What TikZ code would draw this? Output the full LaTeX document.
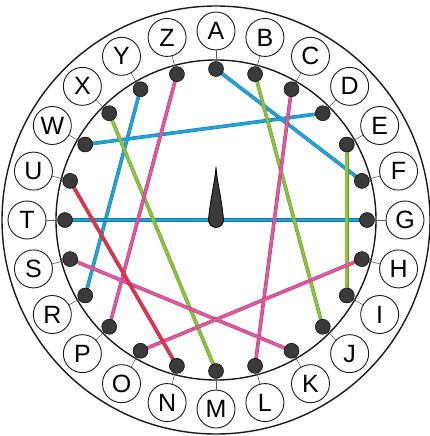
\documentclass[tikz,border=0pt]{standalone}
\usepackage{fontspec}
\setmainfont{Liberation Sans}
\usetikzlibrary{calc,backgrounds}
\definecolor{ringInk}{HTML}{1A1A1A}
\definecolor{pinDark}{HTML}{3A3A3A}
\definecolor{wireBlue}{HTML}{1FA3D8}
\definecolor{wireGreen}{HTML}{8CC43F}
\definecolor{wirePink}{HTML}{E2579F}
\definecolor{wireRed}{HTML}{E2334E}

\begin{document}
\begin{tikzpicture}[x=1pt,y=-1pt,line cap=round,line join=round]
\useasboundingbox (0,0) rectangle (429,436);
\tikzset{ring/.style={draw=ringInk,line width=1.4pt},letter/.style={circle,draw=ringInk,line width=0.9pt,fill=white,minimum size=38pt,inner sep=0pt,font=\fontsize{25}{25}\selectfont},pin/.style={circle,fill=pinDark,draw=black,line width=0.5pt,minimum size=15pt,inner sep=0pt},tick/.style={draw=ringInk!70,line width=0.6pt},wire/.style={line width=0.5pt,double distance=2.6pt}}
\coordinate (ctr) at (216,220);
\draw[ring] (ctr) circle (214);
\draw[ring] (ctr) circle (160);
% letters on the outer ring, pins on the inner one
\foreach \l/\a in {A/-90,B/-75,C/-60,D/-45,E/-30,F/-15,G/0,H/15,I/30,J/45,K/60,L/75,M/90,N/105,O/120,P/135,R/150,S/165,T/180,U/195,W/210,X/225,Y/240,Z/255}{
  \node[letter] (l\l) at ($(ctr)+(\a:189)$) {\l};
  \node[pin] (p\l) at ($(ctr)+(\a:151)$) {};
  \draw[tick] (p\l) -- (l\l);
}
\begin{scope}[on background layer]
\draw[wire,draw=wireBlue!75!black,double=wireBlue] (pA.center) -- (pF.center);
\draw[wire,draw=wireBlue!75!black,double=wireBlue] (pW.center) -- (pD.center);
\draw[wire,draw=wireBlue!75!black,double=wireBlue] (pY.center) -- (pR.center);
\draw[wire,draw=wireBlue!75!black,double=wireBlue] (pT.center) -- (pG.center);
\draw[wire,draw=wireGreen!75!black,double=wireGreen] (pX.center) -- (pM.center);
\draw[wire,draw=wireGreen!75!black,double=wireGreen] (pB.center) -- (pJ.center);
\draw[wire,draw=wireGreen!75!black,double=wireGreen] (pE.center) -- (pI.center);
\draw[wire,draw=wirePink!75!black,double=wirePink] (pZ.center) -- (pP.center);
\draw[wire,draw=wirePink!75!black,double=wirePink] (pC.center) -- (pL.center);
\draw[wire,draw=wirePink!75!black,double=wirePink] (pS.center) -- (pK.center);
\draw[wire,draw=wirePink!75!black,double=wirePink] (pO.center) -- (pH.center);
\draw[wire,draw=wireRed!75!black,double=wireRed] (pU.center) -- (pN.center);
\end{scope}
% needle
\filldraw[draw=black,fill=pinDark,line width=0.8pt] (208.5,220) arc(180:0:7.5) .. controls (222,200) and (217,182) .. (216,167) .. controls (215,182) and (210,200) .. cycle;
\end{tikzpicture}
\end{document}
